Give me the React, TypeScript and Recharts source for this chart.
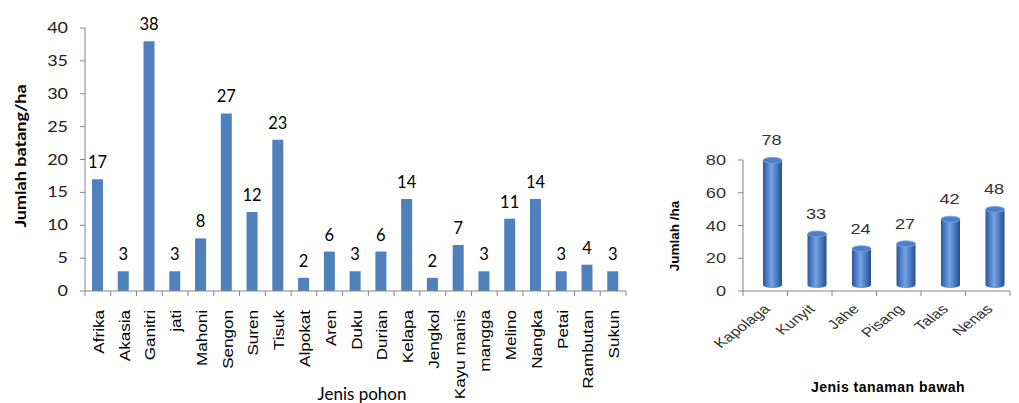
import React from "react";
import { BarChart, Bar, XAxis, YAxis, LabelList } from "recharts";

// Jenis pohon (left chart)
const treeNames = [
  "Afrika", "Akasia", "Ganitri", "jati", "Mahoni", "Sengon", "Suren", "Tisuk",
  "Alpokat", "Aren", "Duku", "Durian", "Kelapa", "Jengkol", "Kayu manis",
  "mangga", "Melino", "Nangka", "Petai", "Rambutan", "Sukun",
];
const treeValues = [17, 3, 38, 3, 8, 27, 12, 23, 2, 6, 3, 6, 14, 2, 7, 3, 11, 14, 3, 4, 3];
const treeTicks = [0, 5, 10, 15, 20, 25, 30, 35, 40];

// Jenis tanaman bawah (right chart)
const plantNames = ["Kapolaga", "Kunyit", "Jahe", "Pisang", "Talas", "Nenas"];
const plantValues = [78, 33, 24, 27, 42, 48];
const plantTicks = [0, 20, 40, 60, 80];

const treeData = treeNames.map((name, i) => ({ name, value: treeValues[i] }));
const plantData = plantNames.map((name, i) => ({ name, value: plantValues[i] }));

const AXIS = "#868686";
const LEFT_STEP = (626 - 85) / treeNames.length;
const RIGHT_STEP = (1010 - 743) / plantNames.length;

function TreeTick(props: any) {
  const { x, y, payload, index } = props;
  return (
    <g>
      <line x1={x - LEFT_STEP / 2} x2={x - LEFT_STEP / 2} y1={y} y2={y + 5} stroke={AXIS} />
      {index === treeNames.length - 1 && (
        <line x1={x + LEFT_STEP / 2} x2={x + LEFT_STEP / 2} y1={y} y2={y + 5} stroke={AXIS} />
      )}
      <text
        transform={`translate(${x + 6},${y + 19}) rotate(-90) scale(1.22,1)`}
        textAnchor="end"
        fontFamily="'Liberation Sans', Arial, sans-serif"
        fontSize={14}
        fill="#000"
      >
        {payload.value}
      </text>
    </g>
  );
}

function TreeYTick(props: any) {
  const { x, y, payload } = props;
  return (
    <text
      transform={`translate(${x},${y + 5}) scale(1.2,1)`}
      textAnchor="end"
      fontFamily="Lato, sans-serif"
      fontSize={15}
      fill="#222"
    >
      {payload.value}
    </text>
  );
}

function TreeLabel(props: any) {
  const { x, y, width, value } = props;
  return (
    <text
      x={x + width / 2}
      y={y - 11}
      textAnchor="middle"
      fontFamily="Lato, sans-serif"
      fontSize={16.5}
      fill="#000"
    >
      {value}
    </text>
  );
}

function PlantTick(props: any) {
  const { x, y, payload, index } = props;
  return (
    <g>
      <line x1={x - RIGHT_STEP / 2} x2={x - RIGHT_STEP / 2} y1={y} y2={y + 5} stroke={AXIS} />
      {index === plantNames.length - 1 && (
        <line x1={x + RIGHT_STEP / 2} x2={x + RIGHT_STEP / 2} y1={y} y2={y + 5} stroke={AXIS} />
      )}
      <text
        transform={`translate(${x + 6},${y + 19}) scale(1.3,1) rotate(-45)`}
        textAnchor="end"
        fontFamily="'Liberation Sans', Arial, sans-serif"
        fontSize={13}
        fill="#333"
      >
        {payload.value}
      </text>
    </g>
  );
}

function PlantYTick(props: any) {
  const { x, y, payload } = props;
  return (
    <text
      transform={`translate(${x},${y + 5}) scale(1.3,1)`}
      textAnchor="end"
      fontFamily="'Liberation Sans', Arial, sans-serif"
      fontSize={14}
      fill="#333"
    >
      {payload.value}
    </text>
  );
}

function PlantLabel(props: any) {
  const { x, y, width, value } = props;
  return (
    <text
      transform={`translate(${x + width / 2 + 6},${y - 18}) scale(1.3,1)`}
      textAnchor="middle"
      fontFamily="'Liberation Sans', Arial, sans-serif"
      fontSize={14}
      fill="#333"
    >
      {value}
    </text>
  );
}

// 3D cylinder look of the Excel chart
function Cylinder(props: any) {
  const { x, y, width, height } = props;
  const cx = x + width / 2 + 7;
  const rx = width / 2;
  const ry = 3;
  const top = y - 3;
  const bottom = y + height - 6;
  return (
    <g>
      <path
        d={`M${cx - rx},${top} L${cx - rx},${bottom} A${rx},${ry} 0 0 0 ${cx + rx},${bottom} L${cx + rx},${top} Z`}
        fill="url(#cylBody)"
      />
      <ellipse cx={cx} cy={top} rx={rx} ry={ry} fill="#4C7FC6" stroke="#79A5DE" strokeWidth={0.8} />
    </g>
  );
}

const titleBase: React.CSSProperties = {
  position: "absolute",
  whiteSpace: "nowrap",
  transformOrigin: "center",
  lineHeight: 1,
};

export default function App() {
  return (
    <div style={{ position: "absolute", left: 0, top: 0, width: 1019, height: 403, background: "#fff", overflow: "hidden" }}>
      <div style={{ position: "absolute", left: 0, top: 0 }}>
        <BarChart
          width={640}
          height={403}
          data={treeData}
          margin={{ top: 28, right: 14, left: 0, bottom: 0 }}
          barSize={11}
        >
          <XAxis
            dataKey="name"
            interval={0}
            height={112}
            tickLine={false}
            tickSize={0}
            tickMargin={0}
            axisLine={{ stroke: AXIS }}
            tick={<TreeTick />}
          />
          <YAxis
            width={85}
            domain={[0, 40]}
            ticks={treeTicks}
            interval={0}
            tickSize={5}
            tickMargin={12}
            axisLine={{ stroke: AXIS }}
            tickLine={{ stroke: AXIS }}
            tick={<TreeYTick />}
          />
          <Bar dataKey="value" fill="#4F81BD" isAnimationActive={false}>
            <LabelList dataKey="value" content={<TreeLabel />} />
          </Bar>
        </BarChart>
      </div>

      <div style={{ position: "absolute", left: 650, top: 0 }}>
        <BarChart
          width={369}
          height={403}
          data={plantData}
          margin={{ top: 160, right: 9, left: 0, bottom: 0 }}
          barSize={19}
        >
          <defs>
            <linearGradient id="cylBody" x1="0" y1="0" x2="1" y2="0">
              <stop offset="0%" stopColor="#2B5896" />
              <stop offset="25%" stopColor="#4F84CE" />
              <stop offset="45%" stopColor="#77A4E0" />
              <stop offset="70%" stopColor="#4B7EC6" />
              <stop offset="100%" stopColor="#264E8A" />
            </linearGradient>
          </defs>
          <XAxis
            dataKey="name"
            interval={0}
            height={112}
            tickLine={false}
            tickSize={0}
            tickMargin={0}
            axisLine={{ stroke: AXIS }}
            tick={<PlantTick />}
          />
          <YAxis
            width={93}
            domain={[0, 80]}
            ticks={plantTicks}
            interval={0}
            tickSize={5}
            tickMargin={12}
            axisLine={{ stroke: AXIS }}
            tickLine={{ stroke: AXIS }}
            tick={<PlantYTick />}
          />
          <Bar dataKey="value" shape={<Cylinder />} isAnimationActive={false}>
            <LabelList dataKey="value" content={<PlantLabel />} />
          </Bar>
        </BarChart>
      </div>

      {/* axis titles */}
      <div
        style={{
          ...titleBase,
          left: 20,
          top: 156,
          transform: "translate(-50%, -50%) rotate(-90deg) scaleX(1.2)",
          fontFamily: "Lato, sans-serif",
          fontWeight: 700,
          fontSize: 15,
          color: "#000",
        }}
      >
        Jumlah batang/ha
      </div>
      <div
        style={{
          ...titleBase,
          left: 362,
          top: 393,
          transform: "translate(-50%, -50%)",
          fontFamily: "Lato, sans-serif",
          fontSize: 17,
          color: "#000",
        }}
      >
        Jenis pohon
      </div>
      <div
        style={{
          ...titleBase,
          left: 675,
          top: 236,
          transform: "translate(-50%, -50%) rotate(-90deg)",
          fontFamily: "'Liberation Sans', Arial, sans-serif",
          fontWeight: 700,
          fontSize: 13.5,
          color: "#000",
        }}
      >
        Jumlah /ha
      </div>
      <div
        style={{
          ...titleBase,
          left: 888,
          top: 387,
          transform: "translate(-50%, -50%)",
          fontFamily: "'Liberation Sans', Arial, sans-serif",
          fontWeight: 700,
          fontSize: 14,
          letterSpacing: 0.5,
          color: "#000",
        }}
      >
        Jenis tanaman bawah
      </div>
    </div>
  );
}
